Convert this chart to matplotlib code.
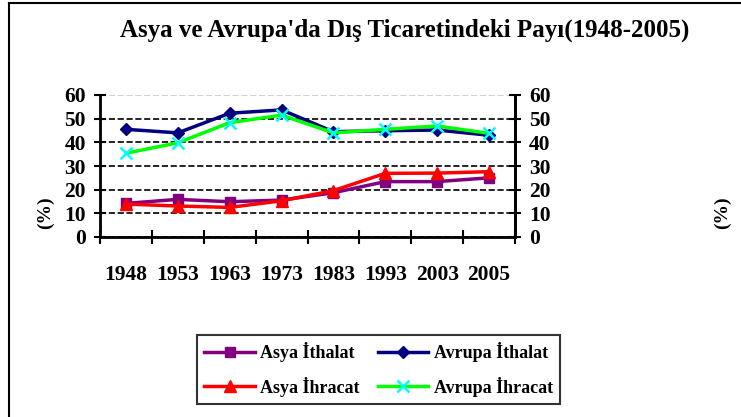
import matplotlib.pyplot as plt
from matplotlib.lines import Line2D

# veriler
yillar = ['1948', '1953', '1963', '1973', '1983', '1993', '2003', '2005']
asya_ithalat = [14.2, 15.9, 14.9, 15.6, 18.7, 23.4, 23.4, 25.0]
asya_ihracat = [13.9, 13.1, 12.5, 15.3, 19.6, 26.9, 27.0, 27.6]
avrupa_ithalat = [45.5, 44.0, 52.3, 53.7, 44.5, 44.9, 45.2, 43.0]
avrupa_ihracat = [35.4, 39.8, 48.3, 51.5, 44.0, 45.5, 46.9, 43.8]
y_ticks = [0, 10, 20, 30, 40, 50, 60]

plt.rcParams['font.family'] = 'Liberation Serif'
plt.rcParams['font.weight'] = 'bold'

fig = plt.figure(figsize=(7.41, 4.17), dpi=100)
ax = fig.add_axes([100/741, 1-237/417, 415/741, 142/417])

x = range(len(yillar))
l1, = ax.plot(x, asya_ithalat, color='#800080', lw=2.5, marker='s', ms=7, label='Asya İthalat')
l2, = ax.plot(x, asya_ihracat, color='#ff0000', lw=2.5, marker='^', ms=8, label='Asya İhracat')
l3, = ax.plot(x, avrupa_ithalat, color='#000080', lw=2.5, marker='D', ms=6, label='Avrupa İthalat')
l4, = ax.plot(x, avrupa_ihracat, color='#00ff00', lw=2.5, marker='x', ms=9, mec='#00ffff', mew=1.8,
              label='Avrupa İhracat')

ax.set_xlim(-0.5, len(yillar) - 0.5)
ax.set_ylim(0, 60)
ax.set_yticks(y_ticks)
ax.set_xticks([i - 0.5 for i in range(len(yillar) + 1)])
ax.set_xticklabels([])
ax.set_xticks(list(x), minor=True)
ax.set_xticklabels(yillar, minor=True, fontsize=15.5, fontweight='bold')
ax.tick_params(axis='x', which='minor', length=0, pad=20)
ax.tick_params(axis='x', which='major', direction='inout', length=10, width=1.5)
ax.tick_params(axis='y', direction='inout', length=8, width=1.5, labelsize=15.5, pad=6)

ax.yaxis.grid(True, color='black', ls='--', lw=1.2)
ax.get_ygridlines()[-1].set_color('#c8c8c8')
ax.set_axisbelow(True)

ax.spines['top'].set_visible(False)
ax.spines['left'].set_linewidth(2)
ax.spines['bottom'].set_linewidth(2)
ax.spines['right'].set_linewidth(2)

ax2 = ax.twinx()
ax2.set_ylim(0, 60)
ax2.set_yticks(y_ticks)
ax2.tick_params(axis='y', direction='inout', length=8, width=1.5, labelsize=15.5, pad=6)
ax2.spines['top'].set_visible(False)
ax2.spines['right'].set_linewidth(2)

fig.text(45/741, 1-213/417, '(%)', rotation=90, ha='center', va='center', fontsize=14, fontweight='bold')
fig.text(722/741, 1-213/417, '(%)', rotation=90, ha='center', va='center', fontsize=14, fontweight='bold')

fig.text(405/741, 1-30/417, "Asya ve Avrupa'da Dış Ticaretindeki Payı(1948-2005)",
         ha='center', va='center', fontsize=18, fontweight='bold')

leg = fig.legend(handles=[l1, l2, l3, l4], loc='upper left', bbox_to_anchor=(197/741, 1-335/417),
                 ncol=2, fontsize=13, frameon=True, fancybox=False, edgecolor='black',
                 handlelength=2.8, handletextpad=0.3, columnspacing=1.0, labelspacing=0.8,
                 borderpad=0.4, borderaxespad=0)
leg.get_frame().set_linewidth(1.5)

# kenar cizgileri
fig.add_artist(Line2D([9/741, 9/741], [0, 1-3/417], color='black', lw=1.5))
fig.add_artist(Line2D([9/741, 1], [1-3/417, 1-3/417], color='black', lw=1.5))

fig.savefig('out.png', dpi=100)
